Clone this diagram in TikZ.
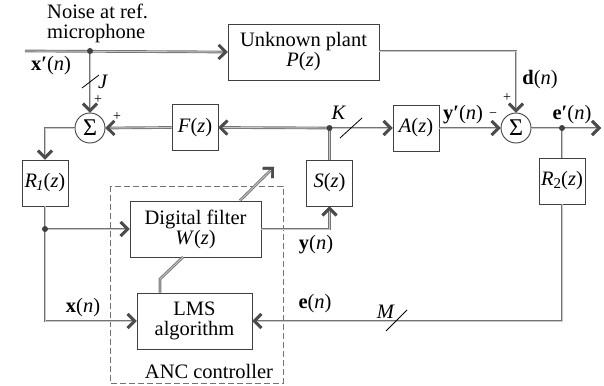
\documentclass[tikz,border=0pt]{standalone}
\usepackage{fontspec}
\setmainfont{Liberation Serif}
\usetikzlibrary{arrows.meta}
\tikzset{
  box/.style={draw=black!75, line width=0.9pt, minimum width=46pt, minimum height=46pt, inner sep=0pt, align=center, font=\fontsize{20.5}{20}\selectfont},
  sumnode/.style={circle, draw=black!75, line width=0.9pt, minimum size=30pt, inner sep=0pt, font=\fontsize{24}{24}\selectfont},
  arr/.style={-{Straight Barb[length=7pt,width=14pt,line width=2.7pt,color=black!70]}},
  sig/.style={draw=black!22, line width=0.9pt, preaction={draw=black!55, line width=2.7pt}},
  sigarr/.style={draw=black!22, line width=0.9pt, arr, preaction={draw=black!55, line width=2.7pt, arr}},
  lbl/.style={inner sep=0pt, font=\fontsize{20.5}{20}\selectfont},
  sgn/.style={inner sep=0pt, font=\fontsize{14}{14}\selectfont},
  dotnode/.style={circle, fill=black!75, minimum size=6pt, inner sep=0pt},
  slash/.style={draw=black, line width=0.8pt},
}
\begin{document}
\begin{tikzpicture}[x=1pt,y=-1pt]
\useasboundingbox (0,0) rectangle (604,385);
% dashed controller frame
\draw[black!55, line width=0.9pt, dash pattern=on 6pt off 3pt] (110,186) rectangle (283,383);
\node[lbl] (anc) at (209,371) {ANC controller};

% boxes
\node[box, minimum width=151pt, minimum height=56pt] (plant) at (303.5,52) {Unknown plant\\\textit{P}(\textit{z})};
\node[box] (F) at (195,127.5) {\textit{F}(\textit{z})};
\node[box] (A) at (416,128) {\textit{A}(\textit{z})};
\node[box] (S) at (329.5,183) {\textit{S}(\textit{z})};
\node[box] (R1) at (45,183) {\textit{R\kern-1pt\raisebox{-3pt}{\fontsize{15}{15}\selectfont 1}}(\textit{z})};
\node[box] (R2) at (562,181) {\textit{R}\raisebox{-3pt}{\fontsize{15}{15}\selectfont 2}(\textit{z})};
\node[box, minimum width=131pt, minimum height=56pt] (W) at (195.5,229) {Digital filter\\\textit{W}(\textit{z})};
\node[box, minimum width=115pt, minimum height=56pt] (LMS) at (194.5,321) {LMS\\algorithm};
\node[sumnode] (s1) at (90,128) {\raisebox{-1pt}{Σ}};
\node[sumnode] (s2) at (516,128) {\raisebox{-1pt}{Σ}};

% junctions and coordinates
\coordinate (in) at (25,51);
\coordinate (j1) at (90,51);
\coordinate (jK) at (329.5,128);
\coordinate (je) at (562,128);
\coordinate (jx) at (45,229);
\coordinate (out) at (601,128);
\coordinate (dcorner) at (516,51);
\coordinate (r1corner) at (45,128);
\coordinate (xcorner) at (45,321);
\coordinate (ecorner) at (562,321);
\coordinate (ycorner) at (329.5,229);
\coordinate (adapt) at (274,167);
\coordinate (lk1) at (160,279);
\coordinate (lk2) at (183,257);

% signal lines
\draw[sigarr] (in) -- (plant.west);
\draw[sigarr] (j1) -- (s1.north);
\draw[sigarr] (plant.east |- dcorner) -- (dcorner) -- (s2.north);
\draw[sigarr] (jK) -- (F.east);
\draw[sigarr] (F.west) -- (s1.east);
\draw[sigarr] (s1.west) -- (r1corner) -- (R1.north);
\draw[sigarr] (jK) -- (A.west);
\draw[sigarr] (A.east) -- (s2.west);
\draw[sigarr] (s2.east) -- (out);
\draw[sig] (S.north) -- (jK);
\draw[sig] (R2.north) -- (je);
\draw[sig] (R1.south) -- (jx);
\draw[sigarr] (jx) -- (W.west);
\draw[sigarr] (jx) -- (xcorner) -- (LMS.west);
\draw[sigarr] (R2.south) -- (ecorner) -- (LMS.east |- ecorner);
\draw[sigarr] (W.north -| 240,0) -- (adapt);
\draw[sigarr] (W.east |- ycorner) -- (ycorner) -- (S.south);
\draw[sig] (LMS.north -| lk1) -- (lk1) -- (lk2);
% junction dots
\node[dotnode] (d1) at (j1) {};
\node[dotnode] (d2) at (jK) {};
\node[dotnode] (d3) at (je) {};
\node[dotnode] (d4) at (jx) {};

% slash markers
\draw[slash] (82,88) -- (99,75);
\draw[slash] (340,138) -- (362,118);
\draw[slash] (386,331) -- (407,310);

% labels
\node[lbl, align=left, anchor=north west] (noise) at (47,4) {Noise at ref.\\microphone};
\node[lbl] (lxp) at (51,66) {\textbf{x′}(\textit{n})};
\node[lbl] (lJ) at (103,82) {\textit{J}};
\node[lbl] (lK) at (339,113) {\textit{K}};
\node[lbl] (lM) at (386,312) {\textit{M}};
\node[lbl] (ld) at (540,80) {\textbf{d}(\textit{n})};
\node[lbl] (lyp) at (463,115) {\textbf{y′}(\textit{n})};
\node[lbl] (lep) at (572,115) {\textbf{e′}(\textit{n})};
\node[lbl] (ly) at (316,245) {\textbf{y}(\textit{n})};
\node[lbl] (le) at (315,304) {\textbf{e}(\textit{n})};
\node[lbl] (lx) at (83,308) {\textbf{x}(\textit{n})};
\node[sgn] (p1) at (98,100) {+};
\node[sgn] (p2) at (117,117) {+};
\node[sgn] (p3) at (507,98) {+};
\node[sgn] (m1) at (493,115) {−};
\end{tikzpicture}
\end{document}
